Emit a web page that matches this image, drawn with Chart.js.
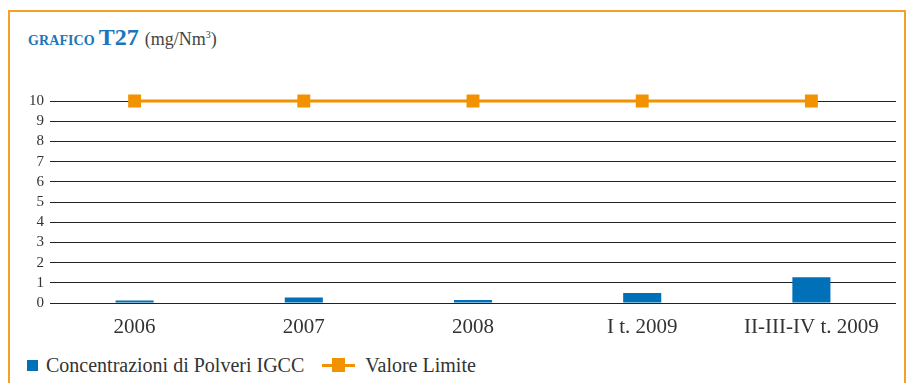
<!DOCTYPE html>
<html>
<head>
<meta charset="utf-8">
<script src="https://cdn.jsdelivr.net/npm/chart.js@4.4.0/dist/chart.umd.min.js"></script>
<style>
  body { margin: 0; background: #fff; width: 906px; height: 383px; overflow: hidden; position: relative; }
  #frame { position: absolute; left: 8px; top: 10px; width: 894px; height: 400px;
           border-top: 2px solid #f5a02a; border-left: 2px solid #f5a02a; border-right: 2px solid #f5a02a; }
  #title { position: absolute; left: 28px; top: 24px; font-family: "Liberation Serif", serif; color: #1a75bb; white-space: nowrap; }
  #title .g { font-size: 14px; font-weight: bold; letter-spacing: 0.1px; }
  #title .t { font-size: 24px; font-weight: bold; }
  #title .u { font-size: 18px; color: #444; font-weight: normal; margin-left: 2px; }
  #chartBox { position: absolute; left: 0; top: 0; width: 906px; height: 345px; }
  #legend { position: absolute; left: 27px; top: 352px; font-family: "Liberation Serif", serif; font-size: 20px; color: #333; white-space: nowrap; }
  #legend span { display: inline-block; vertical-align: middle; }
  .sq { width: 11px; height: 11px; background: #0070b8; margin-right: 8px; }
  .ln { position: relative; width: 33px; height: 14px; margin: 0 10px 0 18px; }
  .ln:before { content: ""; position: absolute; left: 0; right: 0; top: 6px; height: 3px; background: #f39200; }
  .ln:after { content: ""; position: absolute; left: 10px; top: 0; width: 13px; height: 14px; background: #f39200; }
</style>
</head>
<body>
<div id="frame"></div>
<div id="title"><span class="g">GRAFICO</span> <span class="t">T27</span> <span class="u">(mg/Nm<sup style="font-size:10px">3</sup>)</span></div>
<div id="chartBox"><canvas id="chartT27"></canvas></div>
<div id="legend"><span class="sq"></span><span id="lab1"></span><span class="ln"></span><span id="lab2"></span></div>
<script>
const periods = ["2006", "2007", "2008", "I t. 2009", "II-III-IV t. 2009"];
const polveriIGCC = [0.12, 0.27, 0.15, 0.5, 1.27];
const valoreLimite = [10, 10, 10, 10, 10];
const yTicks = [0, 1, 2, 3, 4, 5, 6, 7, 8, 9, 10];
const seriesNames = ["Concentrazioni di Polveri IGCC", "Valore Limite"];

document.getElementById("lab1").textContent = seriesNames[0];
document.getElementById("lab2").textContent = seriesNames[1];

const serif = "'Liberation Serif', serif";

const chartT27 = new Chart("chartT27", {
    data: {
        labels: periods,
        datasets: [{
            type: "line",
            label: seriesNames[1],
            data: valoreLimite,
            borderColor: "#f39200",
            backgroundColor: "#f39200",
            borderWidth: 3,
            pointStyle: "rect",
            pointRadius: 7,
            pointHoverRadius: 7,
            clip: false,
            order: 0
        }, {
            type: "bar",
            label: seriesNames[0],
            data: polveriIGCC,
            backgroundColor: "#0070b8",
            barPercentage: 0.225,
            categoryPercentage: 1,
            order: 1
        }]
    },
    options: {
        responsive: true,
        maintainAspectRatio: false,
        animation: false,
        layout: { padding: { top: 101, right: 9, left: 0, bottom: 0 } },
        plugins: { legend: { display: false }, tooltip: { enabled: false } },
        scales: {
            x: {
                grid: { display: false },
                border: { display: false },
                ticks: { color: "#333", font: { family: serif, size: 21 }, padding: 4, maxRotation: 0, autoSkip: false },
                afterFit: function(scale) { scale.height = 42; }
            },
            y: {
                min: 0,
                max: 10,
                afterBuildTicks: function(scale) { scale.ticks = yTicks.map(v => ({ value: v })); },
                grid: { color: "#222", lineWidth: 1, drawTicks: false },
                border: { display: false },
                ticks: { color: "#333", font: { family: serif, size: 15 }, padding: 6, autoSkip: false },
                afterFit: function(scale) { scale.width = 50; }
            }
        }
    }
});
</script>
</body>
</html>
